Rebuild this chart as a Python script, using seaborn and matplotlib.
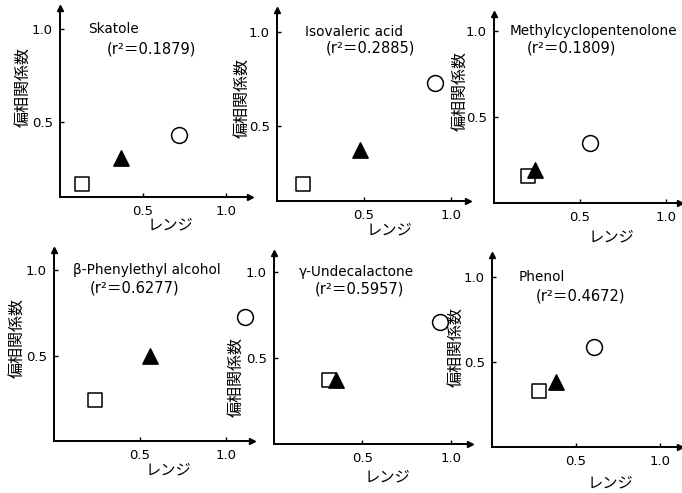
import matplotlib
matplotlib.use("Agg")
import matplotlib.pyplot as plt
import seaborn as sns
import pandas as pd

# values
names = ["Skatole", "Isovaleric acid", "Methylcyclopentenolone",
         "β-Phenylethyl alcohol", "γ-Undecalactone", "Phenol"]
r2 = ["0.1879", "0.2885", "0.1809", "0.6277", "0.5957", "0.4672"]

square_x = [0.13, 0.15, 0.20, 0.24, 0.31, 0.28]
square_y = [0.17, 0.19, 0.16, 0.24, 0.37, 0.33]
tri_x = [0.37, 0.48, 0.24, 0.56, 0.35, 0.38]
tri_y = [0.31, 0.37, 0.19, 0.50, 0.37, 0.38]
circle_x = [0.72, 0.91, 0.56, 1.11, 0.94, 0.61]
circle_y = [0.43, 0.73, 0.35, 0.73, 0.71, 0.59]

tick_vals = [0.5, 1.0]
tick_labels = ["0.5", "1.0"]
xlabel = "レンジ"
ylabel = "偏相関係数"

rows = []
for i in range(6):
    rows.append((i, "square", square_x[i], square_y[i]))
    rows.append((i, "triangle", tri_x[i], tri_y[i]))
    rows.append((i, "circle", circle_x[i], circle_y[i]))
df = pd.DataFrame(rows, columns=["panel", "kind", "x", "y"])

sns.set_style("ticks")
plt.rcParams["font.family"] = ["DejaVu Sans", "Noto Sans CJK JP"]
plt.rcParams["text.color"] = "black"
plt.rcParams["axes.labelcolor"] = "black"
plt.rcParams["xtick.color"] = "black"
plt.rcParams["ytick.color"] = "black"

W, H = 682, 493
fig = plt.figure(figsize=(W / 100, H / 100), dpi=100)

# axes box in pixels: left, bottom, right, top ; limits ; label spots ; text spots
layout = [
    dict(box=(60, 197, 250, 8), xmax=1.145, ylim=(0.1, 1.11), yl=(-0.15, 0.58), xl=(0.58, -0.11), name=(0.17, 1.0), r=(0.28, 0.89)),
    dict(box=(277, 201, 468, 10), xmax=1.10, ylim=(0.1, 1.12), yl=(-0.14, 0.54), xl=(0.59, -0.11), name=(0.16, 1.0), r=(0.28, 0.915)),
    dict(box=(494, 203, 680, 14), xmax=1.08, ylim=(0.0, 1.10), yl=(-0.14, 0.59), xl=(0.63, -0.14), name=(0.09, 1.0), r=(0.19, 0.90)),
    dict(box=(54, 441, 252, 250), xmax=1.15, ylim=(0.0, 1.12), yl=(-0.145, 0.54), xl=(0.58, -0.11), name=(0.11, 1.0), r=(0.21, 0.90)),
    dict(box=(274, 444, 470, 253), xmax=1.11, ylim=(0.0, 1.11), yl=(-0.15, 0.35), xl=(0.58, -0.135), name=(0.14, 1.0), r=(0.23, 0.90)),
    dict(box=(492, 447, 680, 255), xmax=1.12, ylim=(0.0, 1.13), yl=(-0.145, 0.52), xl=(0.63, -0.146), name=(0.16, 1.0), r=(0.26, 0.89)),
]

styles = {"square": ("s", "white", 90),
          "triangle": ("^", "black", 120),
          "circle": ("o", "white", 130)}

for i, lay in enumerate(layout):
    l, b, r, t = lay["box"]
    ax = fig.add_axes([l / W, 1 - b / H, (r - l) / W, (b - t) / H])
    sub = df[df["panel"] == i]
    for kind, (mk, fc, s) in styles.items():
        sns.scatterplot(data=sub[sub["kind"] == kind], x="x", y="y", marker=mk,
                        color=fc, edgecolor="black", linewidth=1.1, s=s,
                        ax=ax, legend=False, clip_on=False, zorder=3)
    ax.set_xlim(0, lay["xmax"])
    ax.set_ylim(*lay["ylim"])
    for side in ["top", "right"]:
        ax.spines[side].set_visible(False)
    for side in ["left", "bottom"]:
        ax.spines[side].set_linewidth(1.4)
        ax.spines[side].set_color("black")
    # arrow heads
    ax.plot(1, 0, ">k", transform=ax.transAxes, clip_on=False, markersize=4)
    ax.plot(0, 1, "^k", transform=ax.transAxes, clip_on=False, markersize=4)

    ax.set_xticks(tick_vals)
    ax.set_xticklabels(tick_labels, fontsize=9.5)
    ax.set_yticks(tick_vals)
    ax.set_yticklabels(tick_labels, fontsize=9.5)
    ax.tick_params(axis="x", direction="in", length=3, width=1, pad=6)
    ax.tick_params(axis="y", direction="in", length=3, width=1, pad=5)

    ax.set_xlabel(xlabel, fontsize=11)
    ax.xaxis.set_label_coords(*lay["xl"])
    ax.xaxis.label.set_va("top")
    ax.set_ylabel(ylabel, fontsize=11.5)
    ax.yaxis.set_label_coords(*lay["yl"])

    nx, ny = lay["name"]
    ax.text(nx, ny, names[i], fontsize=9.8, ha="left", va="center")
    rx, ry = lay["r"]
    ax.text(rx, ry, "(r²＝" + r2[i] + ")", fontsize=10.5, ha="left", va="center")

fig.savefig("out.png", dpi=100)
